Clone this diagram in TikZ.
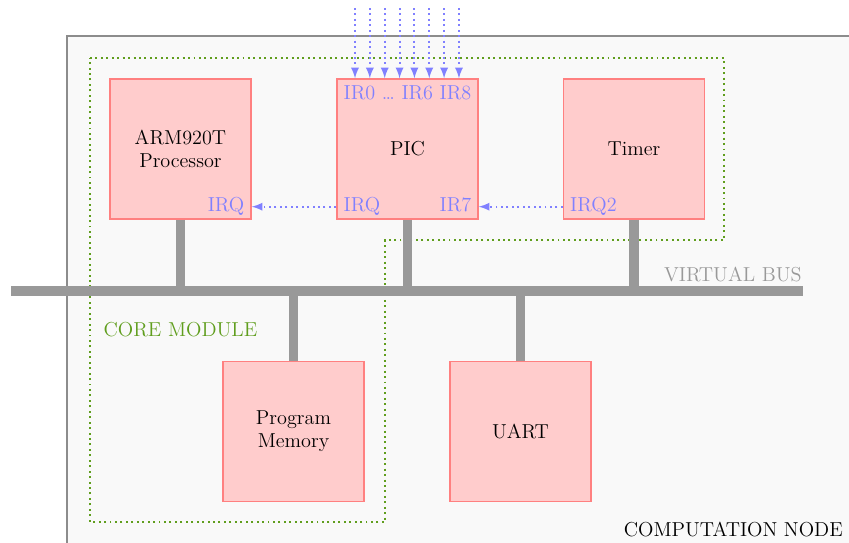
\documentclass[tikz,border=0pt]{standalone}
\usepackage{tikz}
\usetikzlibrary{positioning, arrows}

\definecolor{coregreen}{RGB}{96,158,30}

\begin{document}
\begin{tikzpicture}[font=\fontsize{11.5}{13.2}\selectfont,
    block/.style={draw=red!50, fill=red!20, line width=0.8pt,
        minimum width=2.82cm, minimum height=2.8cm, align=center},
    bus/.style={draw=black!40, line width=5.5pt},
    sig/.style={draw=blue!50, dotted, line width=1.1pt, -latex},
    pin/.style={text=blue!50, inner xsep=4pt, inner ysep=3pt,
        text height=1.6ex, text depth=0.35ex}]

\useasboundingbox (0,0) rectangle (16.98,10.84);

% computation node (runs off the page)
\begin{scope}
  \clip (0,0) rectangle (16.98,10.84);
  \draw[black!45, fill=black!2.5, line width=0.8pt] (1.34,-1) rectangle (18,10.12);
\end{scope}
\node[anchor=east] (compnode) at (16.98,0.26) {COMPUTATION NODE};

% core module outline
\draw[coregreen, dotted, line width=1.1pt]
    (1.80,9.68) -- (14.48,9.68) -- (14.48,6.04) -- (7.70,6.04)
    -- (7.70,0.40) -- (1.80,0.40) -- cycle;
\node[anchor=west, text=coregreen] (core) at (1.95,4.24) {CORE MODULE};

% blocks
\node[block] (arm) at (3.61,7.86) {ARM920T\\Processor};
\node[block] (pic) at (8.15,7.86) {PIC};
\node[block] (timer) at (12.68,7.86) {Timer};
\node[block] (mem) at (5.87,2.21) {Program\\Memory};
\node[block] (uart) at (10.41,2.21) {UART};

% virtual bus
\coordinate (busl) at (0.22,5.02);
\coordinate (busr) at (16.06,5.02);
\draw[bus] (busl) -- (busr);
\node[anchor=base east, text=black!40, inner sep=0pt] (vbus) at (16.04,5.22) {VIRTUAL BUS};
\foreach \b in {arm,pic,timer}
  \draw[bus] (\b.south) -- (\b.south |- busl);
\foreach \b in {mem,uart}
  \draw[bus] (\b.north) -- (\b.north |- busl);

% interrupt lines
\node[pin, anchor=south east] (armirq) at (arm.south east) {IRQ};
\node[pin, anchor=south west] (picirq) at (pic.south west) {IRQ};
\node[pin, anchor=south east] (pic7) at (pic.south east) {IR7};
\node[pin, anchor=south west] (timirq) at (timer.south west) {IRQ2};
\node[pin, anchor=north, inner ysep=5pt] (picin) at (pic.north) {IR0 \dots\ IR6 IR8};

\draw[sig] (pic.west |- picirq) -- (arm.east |- armirq);
\draw[sig] (timer.west |- timirq) -- (pic.east |- pic7);

\foreach \i in {0,...,7} {
  \coordinate (ir\i) at (7.10+0.297*\i,10.68);
  \draw[sig] (ir\i) -- (ir\i |- pic.north);
}

\end{tikzpicture}
\end{document}
